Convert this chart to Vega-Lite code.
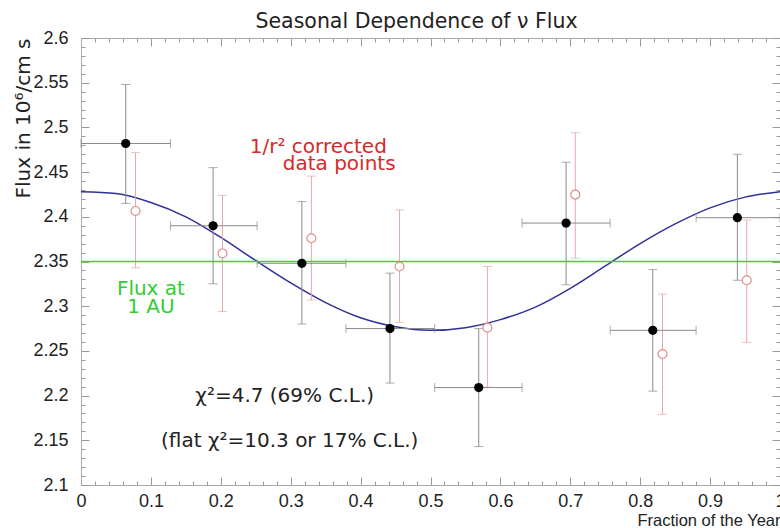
{
  "$schema": "https://vega.github.io/schema/vega-lite/v6.json",
  "autosize": "none",
  "width": 699,
  "height": 447,
  "padding": {"left": 81, "top": 38, "right": 0, "bottom": 43},
  "background": "white",
  "title": {"text": "Seasonal Dependence of ν Flux", "font": "DejaVu Sans", "fontSize": 20.5, "fontWeight": "normal", "color": "#222", "dx": -14, "offset": -3},
  "config": {
    "view": {"stroke": "#aaa"},
    "axis": {"grid": false, "domainColor": "#aaa", "tickColor": "#999", "labelFont": "Liberation Sans", "labelFontSize": 18, "labelColor": "#222", "titleFont": "Liberation Sans", "titleColor": "#222", "titleFontWeight": "normal", "labelOverlap": false, "labelFlush": false}
  },
  "datasets": {
    "black": [
      {"x": 0.064, "y": 2.482, "ylo": 2.415, "yhi": 2.548, "xlo": 0.0, "xhi": 0.128},
      {"x": 0.189, "y": 2.390, "ylo": 2.325, "yhi": 2.455, "xlo": 0.128, "xhi": 0.252},
      {"x": 0.316, "y": 2.348, "ylo": 2.280, "yhi": 2.417, "xlo": 0.252, "xhi": 0.379},
      {"x": 0.442, "y": 2.275, "ylo": 2.214, "yhi": 2.337, "xlo": 0.379, "xhi": 0.506},
      {"x": 0.569, "y": 2.209, "ylo": 2.143, "yhi": 2.275, "xlo": 0.506, "xhi": 0.631},
      {"x": 0.694, "y": 2.393, "ylo": 2.324, "yhi": 2.461, "xlo": 0.631, "xhi": 0.757},
      {"x": 0.818, "y": 2.273, "ylo": 2.205, "yhi": 2.341, "xlo": 0.757, "xhi": 0.880},
      {"x": 0.939, "y": 2.399, "ylo": 2.329, "yhi": 2.470, "xlo": 0.880, "xhi": 1.0}
    ],
    "red": [
      {"x": 0.078, "y": 2.4065, "ylo": 2.343, "yhi": 2.472},
      {"x": 0.2024, "y": 2.359, "ylo": 2.294, "yhi": 2.424},
      {"x": 0.3296, "y": 2.376, "ylo": 2.307, "yhi": 2.4455},
      {"x": 0.4557, "y": 2.3444, "ylo": 2.282, "yhi": 2.4076},
      {"x": 0.5814, "y": 2.276, "ylo": 2.2094, "yhi": 2.3444},
      {"x": 0.7071, "y": 2.4248, "ylo": 2.3537, "yhi": 2.494},
      {"x": 0.8319, "y": 2.2465, "ylo": 2.179, "yhi": 2.3135},
      {"x": 0.9524, "y": 2.329, "ylo": 2.2596, "yhi": 2.3964}
    ],
    "curve": [
      {"x": 0.00, "y": 2.428}, {"x": 0.05, "y": 2.426}, {"x": 0.10, "y": 2.416}, {"x": 0.15, "y": 2.400},
      {"x": 0.20, "y": 2.377}, {"x": 0.25, "y": 2.351}, {"x": 0.30, "y": 2.326}, {"x": 0.35, "y": 2.304},
      {"x": 0.40, "y": 2.287}, {"x": 0.45, "y": 2.277}, {"x": 0.50, "y": 2.273}, {"x": 0.55, "y": 2.276},
      {"x": 0.60, "y": 2.285}, {"x": 0.65, "y": 2.299}, {"x": 0.70, "y": 2.320}, {"x": 0.75, "y": 2.345},
      {"x": 0.80, "y": 2.370}, {"x": 0.85, "y": 2.392}, {"x": 0.90, "y": 2.410}, {"x": 0.95, "y": 2.422},
      {"x": 1.00, "y": 2.428}
    ],
    "one": [{}]
  },
  "resolve": {"axis": {"x": "independent", "y": "independent"}},
  "layer": [
    {
      "data": {"name": "curve"},
      "mark": {"type": "line", "color": "#30309a", "strokeWidth": 1.5, "interpolate": "monotone"},
      "encoding": {
        "x": {"field": "x", "type": "quantitative", "scale": {"domain": [0, 1], "nice": false, "zero": false},
          "axis": {"orient": "bottom", "values": [0,0.02,0.04,0.06,0.08,0.1,0.12,0.14,0.16,0.18,0.2,0.22,0.24,0.26,0.28,0.3,0.32,0.34,0.36,0.38,0.4,0.42,0.44,0.46,0.48,0.5,0.52,0.54,0.56,0.58,0.6,0.62,0.64,0.66,0.68,0.7,0.72,0.74,0.76,0.78,0.8,0.82,0.84,0.86,0.88,0.9,0.92,0.94,0.96,0.98,1],
            "labelExpr": "round(datum.value*100) % 10 == 0 ? format(datum.value, '.2~g') : ''",
            "tickSize": {"condition": {"test": "round(datum.value*100) % 10 == 0", "value": -8}, "value": -4},
            "labelPadding": 15,
            "title": "Fraction of the Year", "titleFontSize": 16.5, "titleX": 699, "titleY": 40, "titleAlign": "right", "titleBaseline": "alphabetic"}},
        "y": {"field": "y", "type": "quantitative", "scale": {"domain": [2.1, 2.6], "nice": false, "zero": false},
          "axis": {"orient": "left", "values": [2.1,2.11,2.12,2.13,2.14,2.15,2.16,2.17,2.18,2.19,2.2,2.21,2.22,2.23,2.24,2.25,2.26,2.27,2.28,2.29,2.3,2.31,2.32,2.33,2.34,2.35,2.36,2.37,2.38,2.39,2.4,2.41,2.42,2.43,2.44,2.45,2.46,2.47,2.48,2.49,2.5,2.51,2.52,2.53,2.54,2.55,2.56,2.57,2.58,2.59,2.6],
            "labelExpr": "round(datum.value*100) % 5 == 0 ? format(datum.value, '.3~g') : ''",
            "tickSize": {"condition": {"test": "round(datum.value*100) % 5 == 0", "value": -8}, "value": -4},
            "labelPadding": 21,
            "title": "Flux in 10⁶/cm s", "titleFont": "DejaVu Sans", "titleFontSize": 20, "titleX": -58, "titleY": 0, "titleAlign": "right", "titleBaseline": "middle", "titleAngle": -90}}
      }
    },
    {
      "data": {"name": "red"},
      "mark": {"type": "rule", "color": "#eaa8a8", "strokeWidth": 1},
      "encoding": {
        "x": {"field": "x", "type": "quantitative",
          "axis": {"orient": "top", "labels": false, "title": null, "values": [0,0.02,0.04,0.06,0.08,0.1,0.12,0.14,0.16,0.18,0.2,0.22,0.24,0.26,0.28,0.3,0.32,0.34,0.36,0.38,0.4,0.42,0.44,0.46,0.48,0.5,0.52,0.54,0.56,0.58,0.6,0.62,0.64,0.66,0.68,0.7,0.72,0.74,0.76,0.78,0.8,0.82,0.84,0.86,0.88,0.9,0.92,0.94,0.96,0.98,1],
            "tickSize": {"condition": {"test": "round(datum.value*100) % 10 == 0", "value": -8}, "value": -4}}},
        "y": {"field": "ylo", "type": "quantitative",
          "axis": {"orient": "right", "labels": false, "title": null, "values": [2.1,2.11,2.12,2.13,2.14,2.15,2.16,2.17,2.18,2.19,2.2,2.21,2.22,2.23,2.24,2.25,2.26,2.27,2.28,2.29,2.3,2.31,2.32,2.33,2.34,2.35,2.36,2.37,2.38,2.39,2.4,2.41,2.42,2.43,2.44,2.45,2.46,2.47,2.48,2.49,2.5,2.51,2.52,2.53,2.54,2.55,2.56,2.57,2.58,2.59,2.6],
            "tickSize": {"condition": {"test": "round(datum.value*100) % 5 == 0", "value": -8}, "value": -4}}},
        "y2": {"field": "yhi"}
      }
    },
    {
      "data": {"name": "red"},
      "mark": {"type": "tick", "orient": "horizontal", "color": "#eaa8a8", "size": 9, "thickness": 1},
      "encoding": {"x": {"field": "x", "type": "quantitative", "axis": null}, "y": {"field": "ylo", "type": "quantitative", "axis": null}}
    },
    {
      "data": {"name": "red"},
      "mark": {"type": "tick", "orient": "horizontal", "color": "#eaa8a8", "size": 9, "thickness": 1},
      "encoding": {"x": {"field": "x", "type": "quantitative", "axis": null}, "y": {"field": "yhi", "type": "quantitative", "axis": null}}
    },
    {
      "data": {"name": "black"},
      "mark": {"type": "rule", "color": "#8a8a8a", "strokeWidth": 1},
      "encoding": {"x": {"field": "x", "type": "quantitative", "axis": null}, "y": {"field": "ylo", "type": "quantitative", "axis": null}, "y2": {"field": "yhi"}}
    },
    {
      "data": {"name": "black"},
      "mark": {"type": "rule", "color": "#8a8a8a", "strokeWidth": 1},
      "encoding": {"y": {"field": "y", "type": "quantitative", "axis": null}, "x": {"field": "xlo", "type": "quantitative", "axis": null}, "x2": {"field": "xhi"}}
    },
    {
      "data": {"name": "black"},
      "mark": {"type": "tick", "orient": "horizontal", "color": "#8a8a8a", "size": 9, "thickness": 1},
      "encoding": {"x": {"field": "x", "type": "quantitative", "axis": null}, "y": {"field": "ylo", "type": "quantitative", "axis": null}}
    },
    {
      "data": {"name": "black"},
      "mark": {"type": "tick", "orient": "horizontal", "color": "#8a8a8a", "size": 9, "thickness": 1},
      "encoding": {"x": {"field": "x", "type": "quantitative", "axis": null}, "y": {"field": "yhi", "type": "quantitative", "axis": null}}
    },
    {
      "data": {"name": "black"},
      "mark": {"type": "tick", "orient": "vertical", "color": "#8a8a8a", "size": 9, "thickness": 1},
      "encoding": {"x": {"field": "xlo", "type": "quantitative", "axis": null}, "y": {"field": "y", "type": "quantitative", "axis": null}}
    },
    {
      "data": {"name": "black"},
      "mark": {"type": "tick", "orient": "vertical", "color": "#8a8a8a", "size": 9, "thickness": 1},
      "encoding": {"x": {"field": "xhi", "type": "quantitative", "axis": null}, "y": {"field": "y", "type": "quantitative", "axis": null}}
    },
    {
      "data": {"name": "one"},
      "mark": {"type": "rule", "color": "#44cc44", "strokeWidth": 1.5},
      "encoding": {"y": {"datum": 2.35, "type": "quantitative", "axis": null}}
    },
    {
      "data": {"name": "red"},
      "mark": {"type": "point", "shape": "circle", "filled": true, "fill": "white", "stroke": "#e08c8c", "strokeWidth": 1.2, "size": 80, "opacity": 1},
      "encoding": {"x": {"field": "x", "type": "quantitative", "axis": null}, "y": {"field": "y", "type": "quantitative", "axis": null}}
    },
    {
      "data": {"name": "black"},
      "mark": {"type": "point", "shape": "circle", "filled": true, "color": "black", "size": 85, "opacity": 1},
      "encoding": {"x": {"field": "x", "type": "quantitative", "axis": null}, "y": {"field": "y", "type": "quantitative", "axis": null}}
    },
    {
      "data": {"name": "one"},
      "mark": {"type": "text", "text": "1/r² corrected", "font": "DejaVu Sans", "fontSize": 20, "color": "#d42a2a", "align": "left", "baseline": "middle"},
      "encoding": {"x": {"datum": 0.2414, "type": "quantitative", "axis": null}, "y": {"datum": 2.4776, "type": "quantitative", "axis": null}}
    },
    {
      "data": {"name": "one"},
      "mark": {"type": "text", "text": "data points", "font": "DejaVu Sans", "fontSize": 20, "color": "#d42a2a", "align": "left", "baseline": "middle"},
      "encoding": {"x": {"datum": 0.2886, "type": "quantitative", "axis": null}, "y": {"datum": 2.4586, "type": "quantitative", "axis": null}}
    },
    {
      "data": {"name": "one"},
      "mark": {"type": "text", "text": "Flux at", "font": "DejaVu Sans", "fontSize": 20, "color": "#33cc33", "align": "center", "baseline": "middle"},
      "encoding": {"x": {"datum": 0.1, "type": "quantitative", "axis": null}, "y": {"datum": 2.319, "type": "quantitative", "axis": null}}
    },
    {
      "data": {"name": "one"},
      "mark": {"type": "text", "text": "1 AU", "font": "DejaVu Sans", "fontSize": 20, "color": "#33cc33", "align": "center", "baseline": "middle"},
      "encoding": {"x": {"datum": 0.1, "type": "quantitative", "axis": null}, "y": {"datum": 2.299, "type": "quantitative", "axis": null}}
    },
    {
      "data": {"name": "one"},
      "mark": {"type": "text", "text": "χ²=4.7 (69% C.L.)", "font": "DejaVu Sans", "fontSize": 20, "color": "#222", "align": "center", "baseline": "middle"},
      "encoding": {"x": {"datum": 0.2914, "type": "quantitative", "axis": null}, "y": {"datum": 2.2, "type": "quantitative", "axis": null}}
    },
    {
      "data": {"name": "one"},
      "mark": {"type": "text", "text": "(flat χ²=10.3 or 17% C.L.)", "font": "DejaVu Sans", "fontSize": 20, "color": "#222", "align": "center", "baseline": "middle"},
      "encoding": {"x": {"datum": 0.2986, "type": "quantitative", "axis": null}, "y": {"datum": 2.1487, "type": "quantitative", "axis": null}}
    }
  ]
}
